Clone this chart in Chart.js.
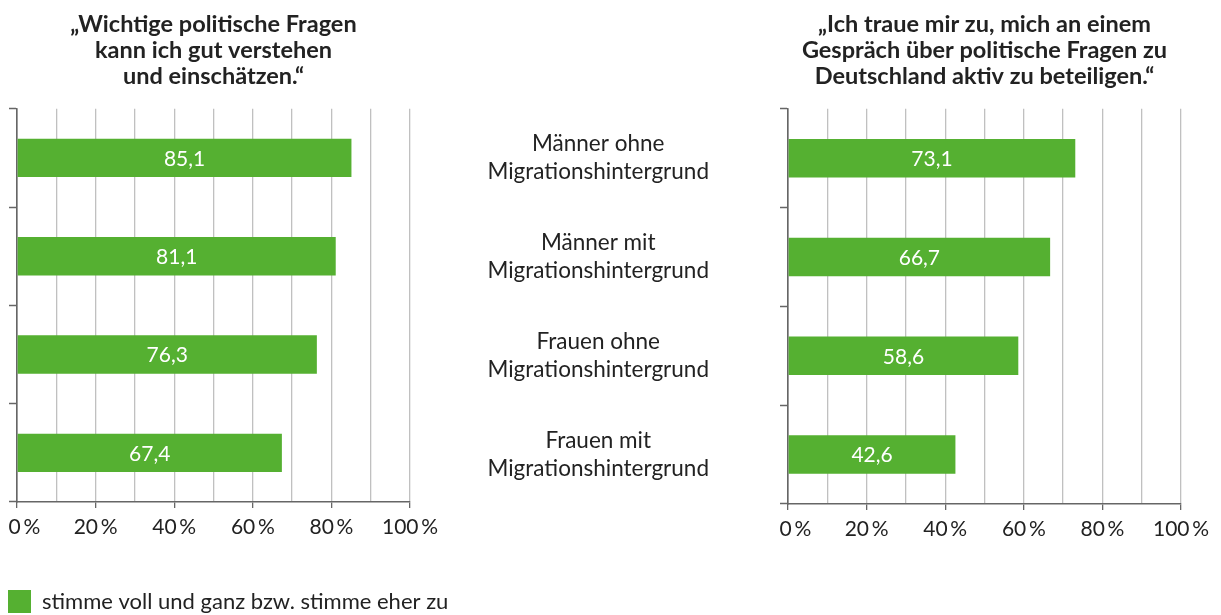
<!DOCTYPE html>
<html><head><meta charset="utf-8">
<script src="https://cdn.jsdelivr.net/npm/chart.js@4.4.1/dist/chart.umd.min.js"></script>
<style>
html,body{margin:0;padding:0;background:#fff;}
#wrap{position:relative;width:1221px;height:615px;overflow:hidden;}
canvas{position:absolute;left:0;top:0;}
</style></head><body>
<div id="wrap"><canvas id="c1" width="1221" height="615"></canvas><canvas id="c2" width="1221" height="615"></canvas></div>
<script>
const categories = [
  ['Männer ohne', 'Migrationshintergrund'],
  ['Männer mit', 'Migrationshintergrund'],
  ['Frauen ohne', 'Migrationshintergrund'],
  ['Frauen mit', 'Migrationshintergrund']
];
const understandValues = [85.1, 81.1, 76.3, 67.4];
const participateValues = [73.1, 66.7, 58.6, 42.6];
const titleLeft = ['„Wichtige politische Fragen', 'kann ich gut verstehen', 'und einschätzen.“'];
const titleRight = ['„Ich traue mir zu, mich an einem', 'Gespräch über politische Fragen zu', 'Deutschland aktiv zu beteiligen.“'];
const legendLabel = 'stimme voll und ganz bzw. stimme eher zu';
const xTickValues = [0, 20, 40, 60, 80, 100];

const GREEN = 'rgb(85,176,49)';
const TEXT = '#222';
const AXIS = '#666';
const GRID = '#c0c0c0';
const FONT = 'Lato';

Chart.defaults.font.family = FONT;
Chart.defaults.color = TEXT;

const valueLabels = {
  id: 'valueLabels',
  afterDatasetsDraw(chart) {
    const ctx = chart.ctx;
    const meta = chart.getDatasetMeta(0);
    const data = chart.data.datasets[0].data;
    ctx.save();
    ctx.fillStyle = '#fff';
    ctx.font = '21px ' + FONT;
    ctx.textAlign = 'center';
    ctx.textBaseline = 'middle';
    meta.data.forEach((bar, i) => {
      ctx.fillText(data[i].toFixed(1).replace('.', ','), (bar.x + bar.base) / 2, bar.y + 1);
    });
    ctx.restore();
  }
};

function tickLabel(v) {
  if (!xTickValues.includes(v)) return '';
  return (v === 0 ? '\u2007\u2009' : '') + v + '\u2009%';
}

function makeConfig(values, title, showLegend, showCats, yWidth, pad, xHeight) {
  return {
    type: 'bar',
    data: {
      labels: categories,
      datasets: [{
        label: legendLabel,
        data: values,
        backgroundColor: GREEN,
        borderWidth: 0,
        barPercentage: 0.39,
        categoryPercentage: 1
      }]
    },
    options: {
      indexAxis: 'y',
      responsive: false,
      animation: false,
      layout: { padding: pad },
      scales: {
        x: {
          type: 'linear', min: 0, max: 100, position: 'bottom',
          ticks: {
            stepSize: 10, autoSkip: false, maxRotation: 0, padding: 7, color: TEXT,
            font: { size: 21 },
            callback: tickLabel
          },
          grid: {
            color: (c) => (c.tick && c.tick.value === 0) ? AXIS : GRID,
            lineWidth: 1.3,
            tickLength: 6,
            tickWidth: 1.3,
            tickColor: (c) => (c.tick && xTickValues.includes(c.tick.value)) ? AXIS : 'rgba(0,0,0,0)'
          },
          border: { color: AXIS, width: 1.5 },
          afterFit: (s) => { s.height = xHeight; s.paddingLeft = 0; s.paddingRight = 0; }
        },
        y: {
          type: 'category', position: 'left', offset: true,
          grid: { offset: true, drawOnChartArea: false, drawTicks: true, tickLength: 8, tickColor: AXIS, tickWidth: 1.5 },
          border: { color: AXIS, width: 1.5 },
          ticks: {
            display: showCats, crossAlign: 'center', padding: 71, color: TEXT,
            font: { size: 22.5, lineHeight: 1.244 }
          },
          afterFit: (s) => { s.width = yWidth; }
        }
      },
      plugins: {
        title: {
          display: true, text: title, fullSize: false, color: TEXT,
          font: { size: 23.5, weight: 'bold', lineHeight: 1.117 },
          padding: { top: 0, bottom: 19 }
        },
        legend: {
          display: showLegend, position: 'bottom', align: 'start',
          labels: { boxWidth: 23, boxHeight: 23, padding: 8, color: TEXT, font: { size: 22 } }
        },
        tooltip: { enabled: false }
      }
    },
    plugins: [valueLabels]
  };
}

new Chart(document.getElementById('c1'),
  makeConfig(understandValues, titleLeft, false, false, 17, { top: 11, left: 0, right: 811, bottom: 0 }, 113));
new Chart(document.getElementById('c2'),
  makeConfig(participateValues, titleRight, true, true, 788, { top: 11, left: 0, right: 40, bottom: -8 }, 78));
</script>
</body></html>
